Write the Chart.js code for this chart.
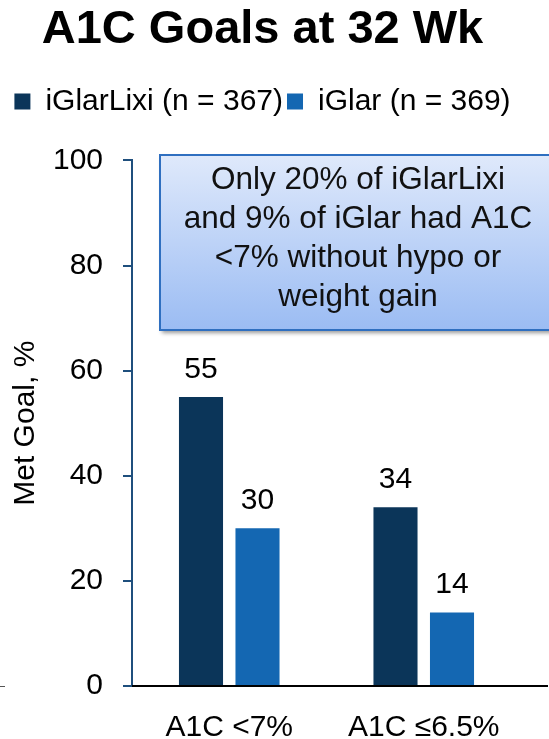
<!DOCTYPE html>
<html>
<head>
<meta charset="utf-8">
<script src="https://cdn.jsdelivr.net/npm/chart.js@4.4.1/dist/chart.umd.min.js"></script>
<style>
  html, body { margin: 0; padding: 0; background: #fff; }
  #wrap { width: 549px; height: 739px; }
</style>
</head>
<body>
<div id="wrap"><canvas id="goals-chart"></canvas></div>
<script>
// --- Data ---
const categories = ['A1C <7%', 'A1C ≤6.5%'];
const seriesNames = ['iGlarLixi (n = 367)', 'iGlar (n = 369)'];
const iGlarLixiValues = [55, 34];
const iGlarValues = [30, 14];
const yTicks = [0, 20, 40, 60, 80, 100];
const calloutLines = ['Only 20% of iGlarLixi', 'and 9% of iGlar had A1C', '<7% without hypo or', 'weight gain'];

const FONT = '"Liberation Sans", Arial, sans-serif';
const NAVY = '#0b3559';
const BLUE = '#1467b2';
const AXIS = '#1f4f7d';

// numbers above the bars
const valueLabels = {
    id: 'valueLabels',
    afterDatasetsDraw(chart) {
        const ctx = chart.ctx;
        ctx.save();
        ctx.font = '30px ' + FONT;
        ctx.fillStyle = '#000';
        ctx.textAlign = 'center';
        ctx.textBaseline = 'alphabetic';
        chart.data.datasets.forEach((ds, i) => {
            chart.getDatasetMeta(i).data.forEach((bar, j) => {
                ctx.fillText(ds.data[j], bar.x, bar.y - 19);
            });
        });
        ctx.restore();
    }
};

// black baseline running to the right edge
const baseline = {
    id: 'baseline',
    afterDatasetsDraw(chart) {
        const ctx = chart.ctx;
        const y = chart.scales.y.getPixelForValue(0);
        ctx.save();
        ctx.strokeStyle = '#000';
        ctx.lineWidth = 2;
        ctx.beginPath();
        ctx.moveTo(chart.chartArea.left, y);
        ctx.lineTo(chart.width - 1, y);
        ctx.stroke();
        ctx.lineWidth = 1;
        ctx.strokeStyle = '#555';
        ctx.beginPath();
        ctx.moveTo(0, y + 0.5);
        ctx.lineTo(5, y + 0.5);
        ctx.stroke();
        ctx.restore();
    }
};

// callout box in the upper right
const callout = {
    id: 'callout',
    afterDraw(chart) {
        const ctx = chart.ctx;
        const x = 160, y = 155, w = 420, h = 175;
        ctx.save();
        const grad = ctx.createLinearGradient(0, y, 0, y + h);
        grad.addColorStop(0, '#dfe9fb');
        grad.addColorStop(1, '#9bbcf3');
        ctx.shadowColor = 'rgba(0,0,0,0.4)';
        ctx.shadowBlur = 4;
        ctx.shadowOffsetX = 2;
        ctx.shadowOffsetY = 3;
        ctx.fillStyle = grad;
        ctx.fillRect(x, y, w, h);
        ctx.shadowColor = 'transparent';
        ctx.strokeStyle = '#2f6fc0';
        ctx.lineWidth = 2;
        ctx.strokeRect(x, y, w, h);
        ctx.fillStyle = '#111';
        ctx.font = '31.5px ' + FONT;
        ctx.textAlign = 'center';
        ctx.textBaseline = 'alphabetic';
        calloutLines.forEach((line, i) => {
            ctx.fillText(line, 358, 189 + i * 39);
        });
        ctx.restore();
    }
};

// extra room under the legend
const legendGap = {
    id: 'legendGap',
    beforeInit(chart) {
        if (!chart.legend) return;
        const fit = chart.legend.fit;
        chart.legend.fit = function () {
            fit.bind(chart.legend)();
            this.height += 34;
        };
    }
};

const ctx = document.getElementById('goals-chart').getContext('2d');
new Chart(ctx, {
    type: 'bar',
    data: {
        labels: categories,
        datasets: [
            {
                label: seriesNames[0],
                data: iGlarLixiValues,
                backgroundColor: NAVY,
                barPercentage: 0.78,
                categoryPercentage: 0.581
            },
            {
                label: seriesNames[1],
                data: iGlarValues,
                backgroundColor: BLUE,
                barPercentage: 0.78,
                categoryPercentage: 0.581
            }
        ]
    },
    options: {
        responsive: true,
        maintainAspectRatio: false,
        animation: false,
        layout: { padding: { left: 4, right: 28, bottom: 0, top: 0 } },
        plugins: {
            title: {
                display: true,
                text: 'A1C Goals at 32 Wk',
                color: '#000',
                font: { family: FONT, size: 47, weight: 'bold', lineHeight: 1.2 },
                padding: { top: 2, bottom: 24 }
            },
            legend: {
                display: true,
                labels: {
                    color: '#000',
                    font: { family: FONT, size: 30 },
                    boxWidth: 16,
                    boxHeight: 16,
                    padding: 4
                }
            },
            tooltip: { enabled: false }
        },
        scales: {
            x: {
                afterFit: scale => { scale.height = 53; },
                grid: { display: false, drawTicks: false },
                border: { display: false },
                ticks: {
                    color: '#000',
                    padding: 27,
                    font: { family: FONT, size: 30, lineHeight: 1 }
                }
            },
            y: {
                min: 0,
                max: 100,
                afterBuildTicks: axis => { axis.ticks = yTicks.map(v => ({ value: v })); },
                afterFit: scale => { scale.width = 128; },
                grid: { drawOnChartArea: false, color: AXIS, lineWidth: 2, tickLength: 9 },
                border: { color: AXIS, width: 2 },
                ticks: {
                    color: '#000',
                    padding: 20,
                    font: { family: FONT, size: 30 }
                },
                title: {
                    display: true,
                    text: 'Met Goal, %',
                    color: '#000',
                    font: { family: FONT, size: 30 },
                    padding: { top: 4, bottom: 4 }
                }
            }
        }
    },
    plugins: [valueLabels, baseline, callout, legendGap]
});
</script>
</body>
</html>
